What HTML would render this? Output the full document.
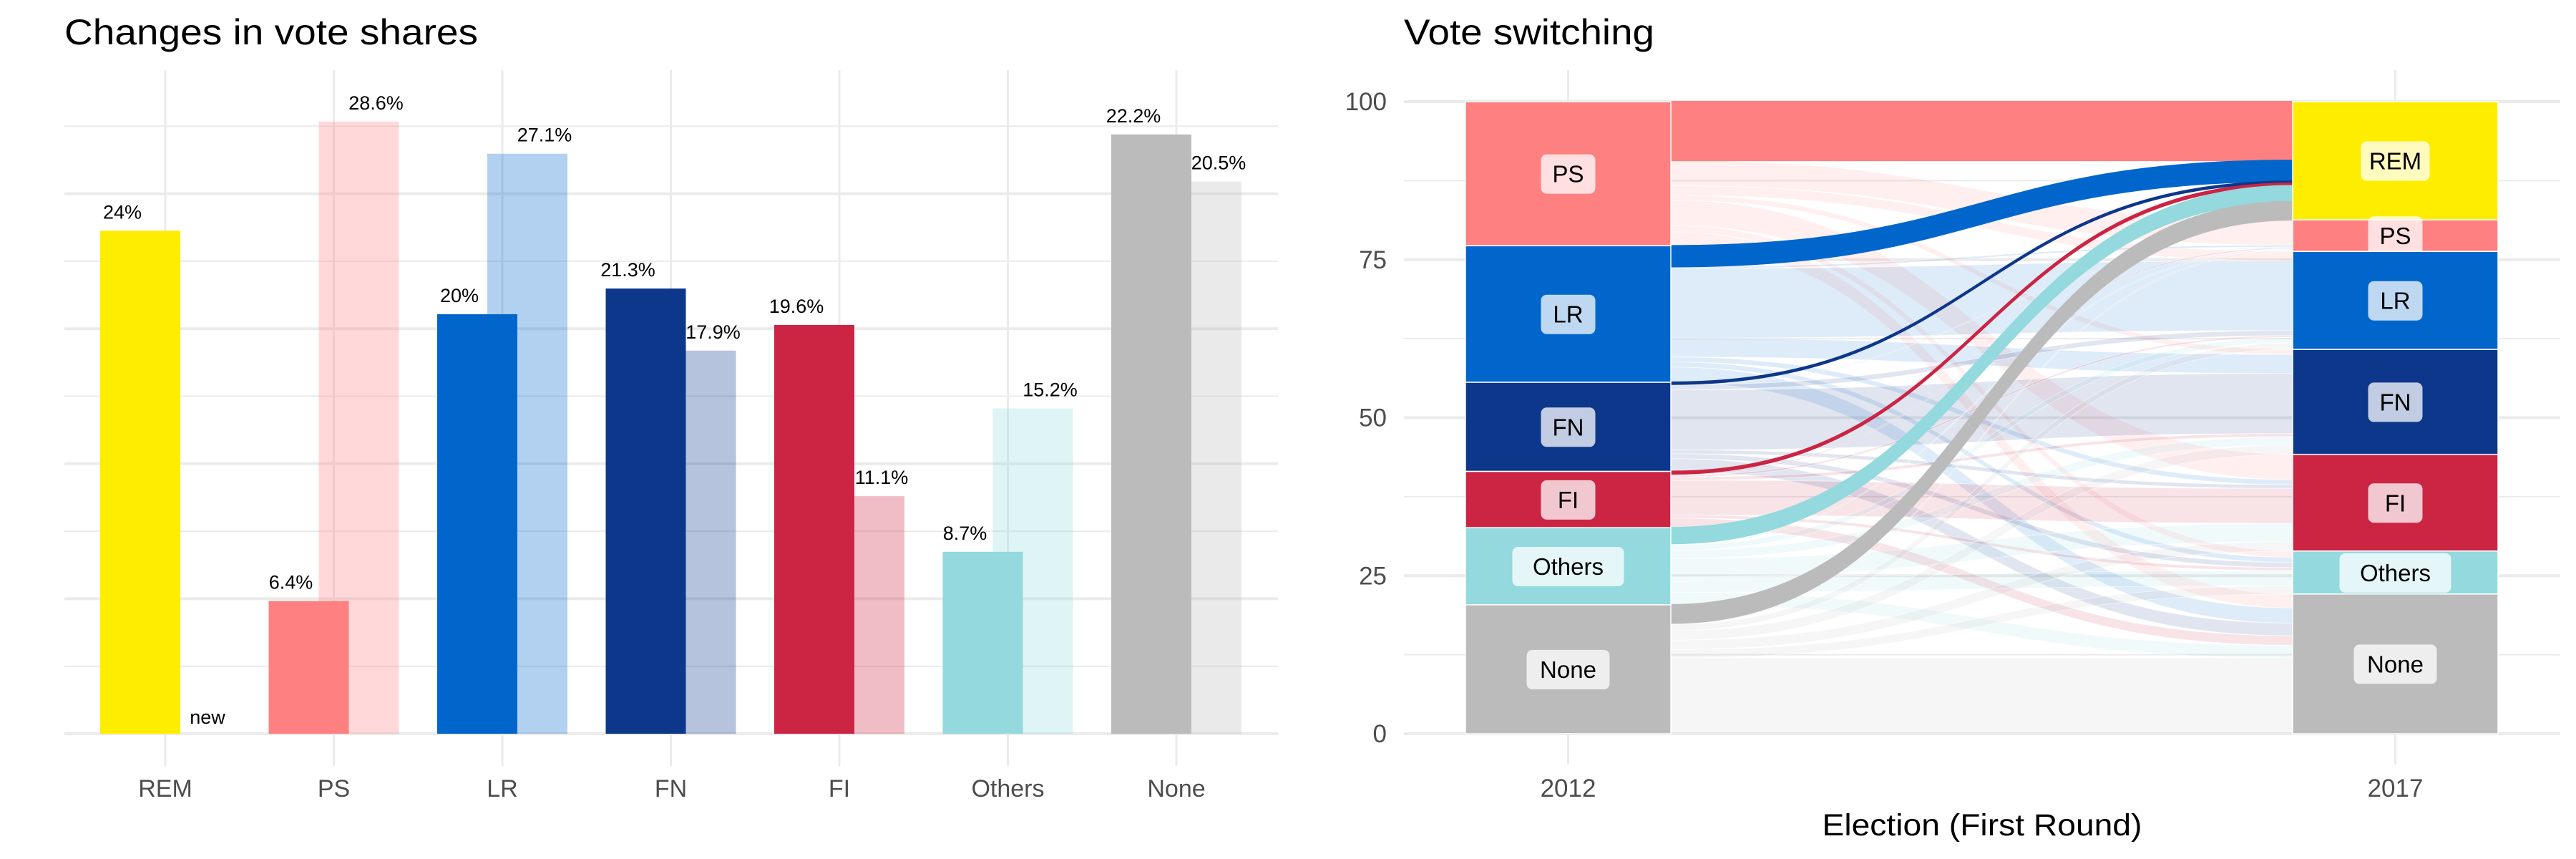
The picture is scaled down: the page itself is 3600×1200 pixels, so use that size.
<!DOCTYPE html>
<html><head><meta charset="utf-8">
<style>
html,body{margin:0;padding:0;background:#fff;}
svg{display:block;font-family:"Liberation Sans",Arial,sans-serif;}
</style></head>
<body>
<svg id="chart" width="3600" height="1200" viewBox="0 0 3600 1200" xmlns="http://www.w3.org/2000/svg">
<rect x="0" y="0" width="3600" height="1200" fill="#fff"/>
<g id="left"></g>
<g id="right"></g>
</svg>
<script>
// ---- Left chart data ----
const parties = ["REM","PS","LR","FN","FI","Others","None"];
const colors = ["#FFED00","#FF8080","#0066CC","#0D378A","#CC2443","#93D9DD","#BBBBBB"];
const bar2017 = [23.5,6.2,19.6,20.8,19.1,8.5,28.0];
const bar2012 = [null,28.6,27.1,17.9,11.1,15.2,25.8];
const label2017 = ["24%","6.4%","20%","21.3%","19.6%","8.7%","22.2%"];
const label2012 = ["new","28.6%","27.1%","17.9%","11.1%","15.2%","20.5%"];

// ---- Right chart data ----
const stackNames2012 = ["PS","LR","FN","FI","Others","None"];
const stackColors2012 = ["#FF8080","#0066CC","#0D378A","#CC2443","#93D9DD","#BBBBBB"];
const stackNames2017 = ["REM","PS","LR","FN","FI","Others","None"];
const stackColors2017 = ["#FFED00","#FF8080","#0066CC","#0D378A","#CC2443","#93D9DD","#BBBBBB"];
// flows[origin][destination]
const flowsPS = [9.3,4.0,1.5,0.8,4.0,1.0,2.2];
const flowsLR = [3.3,0.3,11.0,3.0,0.8,0.8,2.4];
const flowsFN = [0.3,0.1,0.8,9.5,0.6,0.8,2.0];
const flowsFI = [0.4,0.2,0.3,0.5,5.5,0.5,1.5];
const flowsOthers = [2.5,0.2,0.9,1.3,2.9,2.4,2.0];
const flowsNone = [2.9,0.2,1.0,1.5,1.5,1.3,12.0];
const yTicks = [0,25,50,75,100];
const xYears = ["2012","2017"];

const NS="http://www.w3.org/2000/svg";
function mk(parent,tag,attrs,text){const e=document.createElementNS(NS,tag);for(const k in attrs)e.setAttribute(k,attrs[k]);if(text!==undefined)e.textContent=text;parent.appendChild(e);return e;}
const GRID="#EBEBEB";

// ===== LEFT =====
(function(){
  const g=document.getElementById('left');
  const x0=90,x1=1786,zeroY=1025,pxPer=29.9,step=235.5,c0=231;
  const yL=v=>zeroY-v*pxPer;
  const cx=i=>c0+i*step;
  // gridlines
  for(let k=0;k<10;k++){
    const y=zeroY-k*94.3;
    const l=mk(g,'line',{x1:x0,x2:x1,y1:y,y2:y,stroke:GRID,'stroke-width':k%2===0?4:2});
    
  }
  parties.forEach((p,i)=>{
    const l=mk(g,'line',{x1:cx(i),x2:cx(i),y1:98,y2:1070,stroke:GRID,'stroke-width':3});
    
  });
  const t=mk(g,'text',{x:90,y:62,'font-size':50,fill:'#000',textLength:578,lengthAdjust:'spacingAndGlyphs'},'Changes in vote shares');
  
  parties.forEach((p,i)=>{
    const c=cx(i);
    if(bar2012[i]!==null){
      const r=mk(g,'rect',{x:c-21,y:yL(bar2012[i]),width:112,height:bar2012[i]*pxPer,fill:colors[i],'fill-opacity':0.3});
      
    }
    const r2=mk(g,'rect',{x:c-91,y:yL(bar2017[i]),width:112,height:bar2017[i]*pxPer,fill:colors[i]});
    
    const la=mk(g,'text',{x:c-60,y:yL(bar2017[i])-17,'font-size':27,'text-anchor':'middle',fill:'#000'},label2017[i]);
    
    const ly=bar2012[i]===null?zeroY-14:yL(bar2012[i])-17;
    const lb=mk(g,'text',{x:c+59,y:ly,'font-size':27,'text-anchor':'middle',fill:'#000'},label2012[i]);
    
    const ax=mk(g,'text',{x:c,y:1113,'font-size':34,'text-anchor':'middle',fill:'#4D4D4D'},p);
    
  });
})();

// ===== RIGHT =====
(function(){
  const g=document.getElementById('right');
  const x0=1962,x1=3578,zeroY=1025,pxPer=8.83;
  const yR=v=>zeroY-v*pxPer;
  const colL=[2048,2335],colR=[3204,3491];
  // gridlines
  for(let k=0;k<=8;k++){
    const v=k*12.5;
    const l=mk(g,'line',{x1:x0,x2:x1,y1:yR(v),y2:yR(v),stroke:GRID,'stroke-width':k%2===0?4:2});
    
  }
  [(colL[0]+colL[1])/2,(colR[0]+colR[1])/2].forEach(x=>{
    const l=mk(g,'line',{x1:x,x2:x,y1:98,y2:1068,stroke:GRID,'stroke-width':3});
    
  });
  yTicks.forEach(v=>{
    const t=mk(g,'text',{x:1938,y:yR(v)+12,'font-size':35,'text-anchor':'end',fill:'#4D4D4D'},String(v));
    
  });
  const title=mk(g,'text',{x:1962,y:62,'font-size':50,fill:'#000',textLength:350,lengthAdjust:'spacingAndGlyphs'},'Vote switching');
  
  const flows=[flowsPS,flowsLR,flowsFN,flowsFI,flowsOthers,flowsNone];
  const tot2012=flows.map(r=>r.reduce((a,b)=>a+b,0));
  const tot2017=stackNames2017.map((_,j)=>flows.reduce((a,r)=>a+r[j],0));
  // stack tops
  const top2012=[];let acc=100;tot2012.forEach((v,i)=>{top2012.push(acc);acc-=v;});
  const top2017=[];acc=100;tot2017.forEach((v,j)=>{top2017.push(acc);acc-=v;});
  // flow positions
  const leftOff=tot2012.map(()=>0),rightOff=tot2017.map(()=>0);
  const flowList=[];
  for(let i=0;i<flows.length;i++){for(let j=0;j<flows[i].length;j++){
    const v=flows[i][j];
    const lt=top2012[i]-leftOff[i];leftOff[i]+=v;
    flowList.push({i,j,v,lt});
  }}
  for(let j=0;j<tot2017.length;j++){for(let i=0;i<flows.length;i++){
    const f=flowList.find(q=>q.i===i&&q.j===j);
    f.rt=top2017[j]-rightOff[j];rightOff[j]+=f.v;
  }}
  const xa=colL[1],xb=colR[0],xm=(xa+xb)/2;
  function flowPath(f){
    const a1=yR(f.lt),a2=yR(f.lt-f.v),b1=yR(f.rt),b2=yR(f.rt-f.v);
    return `M${xa},${a1} C${xm},${a1} ${xm},${b1} ${xb},${b1} L${xb},${b2} C${xm},${b2} ${xm},${a2} ${xa},${a2} Z`;
  }
  const faint=flowList.filter(f=>f.j!==0),hi=flowList.filter(f=>f.j===0);
  faint.forEach(f=>{
    const p=mk(g,'path',{d:flowPath(f),fill:stackColors2012[f.i],'fill-opacity':0.13,stroke:'#fff','stroke-opacity':0.5,'stroke-width':1});
    
    
  });
  hi.forEach(f=>{
    const p=mk(g,'path',{d:flowPath(f),fill:stackColors2012[f.i],stroke:stackColors2012[f.i],'stroke-width':2});
    
    
  });
  function stack(names,cols,tots,tops,col,key){
    names.forEach((n,i)=>{
      const y=yR(tops[i]),h=tots[i]*pxPer;
      const r=mk(g,'rect',{x:col[0],y:y,width:col[1]-col[0],height:h,fill:cols[i],stroke:'#fff','stroke-width':1.5});
      
      const cx=(col[0]+col[1])/2,cy=y+h/2;
      const w=n.length*20+36;
      const b=mk(g,'rect',{x:cx-w/2,y:cy-27,width:w,height:55,rx:8,fill:'#fff','fill-opacity':0.75});
      
      const t=mk(g,'text',{x:cx,y:cy+12,'font-size':33,'text-anchor':'middle',fill:'#000'},n);
      
    });
  }
  stack(stackNames2012,stackColors2012,tot2012,top2012,colL,'2012');
  stack(stackNames2017,stackColors2017,tot2017,top2017,colR,'2017');
  [colL,colR].forEach((c,k)=>{
    const t=mk(g,'text',{x:(c[0]+c[1])/2,y:1113,'font-size':35,'text-anchor':'middle',fill:'#4D4D4D'},xYears[k]);
    
  });
  const at=mk(g,'text',{x:2770,y:1167,'font-size':43,'text-anchor':'middle',fill:'#000',textLength:447,lengthAdjust:'spacingAndGlyphs'},'Election (First Round)');
  
})();
</script>
</body></html>
